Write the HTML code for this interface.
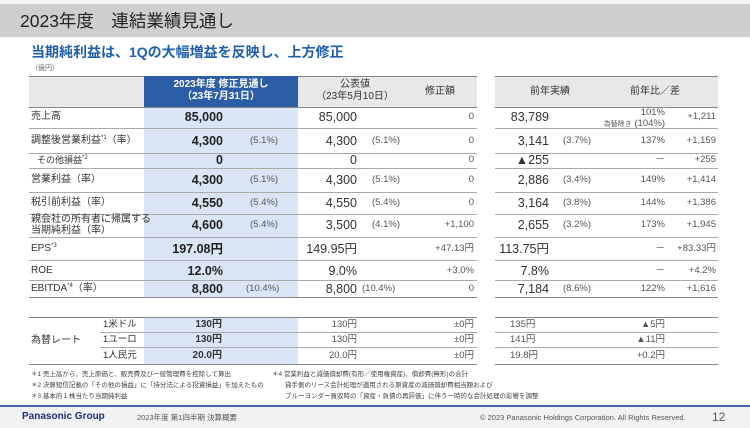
<!DOCTYPE html><html><head><meta charset="utf-8"><style>
*{margin:0;padding:0;box-sizing:border-box}
body{width:750px;height:428px;position:relative;background:#fff;font-family:"Liberation Sans","Noto Sans CJK JP",sans-serif;color:#333;overflow:hidden}
div{position:absolute;white-space:nowrap}
.t{height:14px;line-height:14px;font-size:10px}
.r{text-align:right}
.b{font-weight:bold;font-size:12.5px;color:#222}
.v{font-size:12.5px;color:#333}
.s{font-size:9.5px;color:#555}
.hl{position:absolute;height:1px;background:#aaa}
.sp{font-size:6px;line-height:0;vertical-align:4px}
</style></head><body>
<div style="left:0;top:0;width:750px;height:4px;background:#f4f4f4"></div>
<div style="left:0;top:4px;width:750px;height:33px;background:#cfcfcf"></div>
<div style="left:20px;top:9px;font-size:17.5px;line-height:24px;color:#222">2023年度　連結業績見通し</div>
<div style="left:31px;top:42px;font-size:14px;line-height:20px;font-weight:bold;color:#1f5fae">当期純利益は、1Qの大幅増益を反映し、上方修正</div>
<div style="left:31px;top:63px;font-size:7px;color:#666">（億円）</div>
<div style="left:29px;top:76px;width:448px;height:31px;background:#e8e8e8;border-top:1px solid #888"></div>
<div style="left:495px;top:76px;width:223px;height:31px;background:#e8e8e8;border-top:1px solid #888"></div>
<div style="left:144px;top:76px;width:154px;height:31px;background:#2c5ea7"></div>
<div style="left:144px;top:107px;width:154px;height:190px;background:#dae6f5"></div>
<div style="left:144px;top:317px;width:154px;height:48px;background:#dae6f5"></div>
<div style="left:144px;top:79px;width:154px;text-align:center;color:#fff;font-weight:bold;font-size:10px;line-height:12px">2023年度 修正見通し<br>（23年7月31日）</div>
<div style="left:300px;top:79px;width:110px;text-align:center;font-size:10px;line-height:12px">公表値<br>（23年5月10日）</div>
<div class="t" style="left:410px;top:85px;width:60px;text-align:center">修正額</div>
<div class="t" style="left:495px;top:85px;width:110px;text-align:center">前年実績</div>
<div class="t" style="left:600px;top:85px;width:110px;text-align:center">前年比／差</div>
<div class="hl" style="left:29px;top:107px;width:448px;background:#888"></div><div class="hl" style="left:495px;top:107px;width:223px;background:#888"></div>
<div class="hl" style="left:29px;top:128px;width:448px"></div><div class="hl" style="left:495px;top:128px;width:223px"></div>
<div class="hl" style="left:29px;top:153px;width:448px"></div><div class="hl" style="left:495px;top:153px;width:223px"></div>
<div class="hl" style="left:29px;top:168px;width:448px"></div><div class="hl" style="left:495px;top:168px;width:223px"></div>
<div class="hl" style="left:29px;top:192px;width:448px"></div><div class="hl" style="left:495px;top:192px;width:223px"></div>
<div class="hl" style="left:29px;top:214px;width:448px"></div><div class="hl" style="left:495px;top:214px;width:223px"></div>
<div class="hl" style="left:29px;top:237px;width:448px"></div><div class="hl" style="left:495px;top:237px;width:223px"></div>
<div class="hl" style="left:29px;top:260px;width:448px"></div><div class="hl" style="left:495px;top:260px;width:223px"></div>
<div class="hl" style="left:29px;top:280px;width:448px"></div><div class="hl" style="left:495px;top:280px;width:223px"></div>
<div class="hl" style="left:29px;top:297px;width:448px;background:#888"></div><div class="hl" style="left:495px;top:297px;width:223px;background:#888"></div>
<div class="t" style="left:31px;top:110px">売上高</div>
<div class="t" style="left:31px;top:134px">調整後営業利益<span class="sp">*1</span>（率）</div>
<div class="t" style="left:37px;top:153px;font-size:9px">その他損益<span class="sp">*2</span></div>
<div class="t" style="left:31px;top:173px">営業利益（率）</div>
<div class="t" style="left:31px;top:196px">税引前利益（率）</div>
<div style="left:31px;top:214px;font-size:10px;line-height:11px">親会社の所有者に帰属する<br>当期純利益（率）</div>
<div class="t" style="left:31px;top:242px">EPS<span class="sp">*3</span></div>
<div class="t" style="left:31px;top:264px">ROE</div>
<div class="t" style="left:31px;top:282px">EBITDA<span class="sp">*4</span>（率）</div>
<div class="t b r" style="left:150px;top:110px;width:73px">85,000</div>
<div class="t b r" style="left:150px;top:134px;width:73px">4,300</div>
<div class="t b r" style="left:150px;top:153px;width:73px">0</div>
<div class="t b r" style="left:150px;top:173px;width:73px">4,300</div>
<div class="t b r" style="left:150px;top:196px;width:73px">4,550</div>
<div class="t b r" style="left:150px;top:218px;width:73px">4,600</div>
<div class="t b r" style="left:140px;top:242px;width:83px">197.08円</div>
<div class="t b r" style="left:150px;top:264px;width:73px">12.0%</div>
<div class="t b r" style="left:150px;top:282px;width:73px">8,800</div>
<div class="t s" style="left:250px;top:134px">(5.1%)</div>
<div class="t s" style="left:250px;top:173px">(5.1%)</div>
<div class="t s" style="left:250px;top:196px">(5.4%)</div>
<div class="t s" style="left:250px;top:218px">(5.4%)</div>
<div class="t s" style="left:246px;top:282px">(10.4%)</div>
<div class="t v r" style="left:290px;top:110px;width:67px">85,000</div>
<div class="t v r" style="left:290px;top:134px;width:67px">4,300</div>
<div class="t v r" style="left:290px;top:153px;width:67px">0</div>
<div class="t v r" style="left:290px;top:173px;width:67px">4,300</div>
<div class="t v r" style="left:290px;top:196px;width:67px">4,550</div>
<div class="t v r" style="left:290px;top:218px;width:67px">3,500</div>
<div class="t v r" style="left:290px;top:242px;width:67px">149.95円</div>
<div class="t v r" style="left:290px;top:264px;width:67px">9.0%</div>
<div class="t v r" style="left:290px;top:282px;width:67px">8,800</div>
<div class="t s" style="left:372px;top:134px">(5.1%)</div>
<div class="t s" style="left:372px;top:173px">(5.1%)</div>
<div class="t s" style="left:372px;top:196px">(5.4%)</div>
<div class="t s" style="left:372px;top:218px">(4.1%)</div>
<div class="t s" style="left:362px;top:282px">(10.4%)</div>
<div class="t s r" style="left:410px;top:110px;width:64px">0</div>
<div class="t s r" style="left:410px;top:134px;width:64px">0</div>
<div class="t s r" style="left:410px;top:153px;width:64px">0</div>
<div class="t s r" style="left:410px;top:173px;width:64px">0</div>
<div class="t s r" style="left:410px;top:196px;width:64px">0</div>
<div class="t s r" style="left:410px;top:218px;width:64px">+1,100</div>
<div class="t s r" style="left:410px;top:242px;width:64px">+47.13円</div>
<div class="t s r" style="left:410px;top:264px;width:64px">+3.0%</div>
<div class="t s r" style="left:410px;top:282px;width:64px">0</div>
<div class="t v r" style="left:495px;top:110px;width:54px">83,789</div>
<div class="t v r" style="left:495px;top:134px;width:54px">3,141</div>
<div class="t v r" style="left:495px;top:153px;width:54px">▲255</div>
<div class="t v r" style="left:495px;top:173px;width:54px">2,886</div>
<div class="t v r" style="left:495px;top:196px;width:54px">3,164</div>
<div class="t v r" style="left:495px;top:218px;width:54px">2,655</div>
<div class="t v r" style="left:490px;top:242px;width:59px">113.75円</div>
<div class="t v r" style="left:495px;top:264px;width:54px">7.8%</div>
<div class="t v r" style="left:495px;top:282px;width:54px">7,184</div>
<div class="t s" style="left:563px;top:134px">(3.7%)</div>
<div class="t s" style="left:563px;top:173px">(3.4%)</div>
<div class="t s" style="left:563px;top:196px">(3.8%)</div>
<div class="t s" style="left:563px;top:218px">(3.2%)</div>
<div class="t s" style="left:563px;top:282px">(8.6%)</div>
<div class="s r" style="left:600px;top:107px;width:65px;line-height:11px">101%<br><span style="font-size:7px">為替除き</span> (104%)</div>
<div class="t s r" style="left:600px;top:134px;width:65px">137%</div>
<div class="t s r" style="left:600px;top:153px;width:65px">－</div>
<div class="t s r" style="left:600px;top:173px;width:65px">149%</div>
<div class="t s r" style="left:600px;top:196px;width:65px">144%</div>
<div class="t s r" style="left:600px;top:218px;width:65px">173%</div>
<div class="t s r" style="left:600px;top:242px;width:65px">－</div>
<div class="t s r" style="left:600px;top:264px;width:65px">－</div>
<div class="t s r" style="left:600px;top:282px;width:65px">122%</div>
<div class="t s r" style="left:660px;top:110px;width:56px">+1,211</div>
<div class="t s r" style="left:660px;top:134px;width:56px">+1,159</div>
<div class="t s r" style="left:660px;top:153px;width:56px">+255</div>
<div class="t s r" style="left:660px;top:173px;width:56px">+1,414</div>
<div class="t s r" style="left:660px;top:196px;width:56px">+1,386</div>
<div class="t s r" style="left:660px;top:218px;width:56px">+1,945</div>
<div class="t s r" style="left:650px;top:242px;width:66px">+83.33円</div>
<div class="t s r" style="left:660px;top:264px;width:56px">+4.2%</div>
<div class="t s r" style="left:660px;top:282px;width:56px">+1,616</div>
<div class="hl" style="left:29px;top:317px;width:448px;background:#888"></div><div class="hl" style="left:495px;top:317px;width:223px;background:#888"></div>
<div class="hl" style="left:100px;top:332px;width:377px"></div><div class="hl" style="left:495px;top:332px;width:223px"></div>
<div class="hl" style="left:100px;top:347px;width:377px"></div><div class="hl" style="left:495px;top:347px;width:223px"></div>
<div class="hl" style="left:29px;top:364px;width:448px;background:#888"></div><div class="hl" style="left:495px;top:364px;width:223px;background:#888"></div>
<div class="t" style="left:31px;top:334px">為替レート</div>
<div class="t" style="left:103px;top:318px;font-size:9.5px">1米ドル</div>
<div class="t" style="left:103px;top:333px;font-size:9.5px">1ユーロ</div>
<div class="t" style="left:103px;top:349px;font-size:9.5px">1人民元</div>
<div class="t r" style="left:150px;top:318px;width:72px;font-weight:bold;font-size:10px">130円</div>
<div class="t r" style="left:150px;top:333px;width:72px;font-weight:bold;font-size:10px">130円</div>
<div class="t r" style="left:150px;top:349px;width:72px;font-weight:bold;font-size:10px">20.0円</div>
<div class="t s r" style="left:300px;top:318px;width:57px">130円</div>
<div class="t s r" style="left:300px;top:333px;width:57px">130円</div>
<div class="t s r" style="left:300px;top:349px;width:57px">20.0円</div>
<div class="t s r" style="left:410px;top:318px;width:64px">±0円</div>
<div class="t s r" style="left:410px;top:333px;width:64px">±0円</div>
<div class="t s r" style="left:410px;top:349px;width:64px">±0円</div>
<div class="t s" style="left:510px;top:318px">135円</div>
<div class="t s" style="left:510px;top:333px">141円</div>
<div class="t s" style="left:510px;top:349px">19.8円</div>
<div class="t s r" style="left:600px;top:318px;width:65px">▲5円</div>
<div class="t s r" style="left:600px;top:333px;width:65px">▲11円</div>
<div class="t s r" style="left:600px;top:349px;width:65px">+0.2円</div>
<div style="left:31px;top:369px;font-size:6.5px;line-height:11px;color:#444">＊1 売上高から、売上原価と、販売費及び一般管理費を控除して算出<br>＊2 決算短信記載の「その他の損益」に「持分法による投資損益」を加えたもの<br>＊3 基本的１株当たり当期純利益</div>
<div style="left:272px;top:369px;font-size:6.5px;line-height:11px;color:#444">＊4 営業利益と減価償却費(有形／使用権資産)、償却費(無形)の合計<br>　　貸手側のリース会計処理が適用される原資産の減価償却費相当額および<br>　　ブルーヨンダー買収時の「資産・負債の再評価」に伴う一時的な会計処理の影響を調整</div>
<div style="left:0;top:405px;width:750px;height:2px;background:#4a63a8"></div>
<div style="left:0;top:407px;width:750px;height:21px;background:#f2f2f2"></div>
<div style="left:22px;top:410px;font-size:10px;line-height:14px;font-weight:bold;color:#1d2f7a">Panasonic Group</div>
<div style="left:137px;top:411px;font-size:7.5px;line-height:14px;color:#555">2023年度 第1四半期 決算概要</div>
<div style="left:480px;top:411px;font-size:7.5px;line-height:14px;color:#555">© 2023 Panasonic Holdings Corporation. All Rights Reserved.</div>
<div style="left:712px;top:409px;font-size:12px;line-height:16px;color:#555">12</div>
</body></html>
